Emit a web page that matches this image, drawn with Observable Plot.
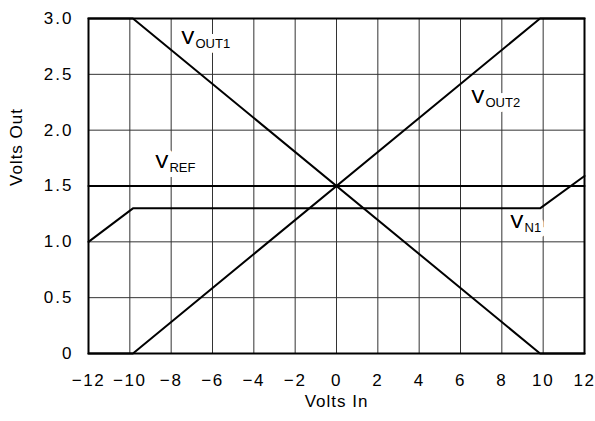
<!DOCTYPE html>
<html>
<head>
<meta charset="utf-8">
<script src="https://cdn.jsdelivr.net/npm/d3@7"></script>
<script src="https://cdn.jsdelivr.net/npm/@observablehq/plot@0.6"></script>
<style>
  html, body { margin: 0; padding: 0; background: #fff; }
  #chart svg { display: block; }
  #chart svg g[aria-label="x-axis tick label"] text { letter-spacing: 1.6px; }
  #chart svg g[aria-label="y-axis tick label"] text { letter-spacing: 2px; }
  #chart svg g.axis-title text { letter-spacing: 1px; }
</style>
</head>
<body>
<div id="chart"></div>
<script>
// Transfer characteristic: output voltages versus input voltage
const vin   = [-12, -9.85, 9.85, 12];
const vout1 = [3.0, 3.0, 0, 0];
const vout2 = [0, 0, 3.0, 3.0];
const vref  = [1.5, 1.5, 1.5, 1.5];
const vn1   = [1.0, 1.3, 1.3, 1.59];

// Axis ticks
const xTicks = [-12, -10, -8, -6, -4, -2, 0, 2, 4, 6, 8, 10, 12];
const yTicks = [0, 0.5, 1.0, 1.5, 2.0, 2.5, 3.0];
const yTickLabels = ["0", "0.5", "1.0", "1.5", "2.0", "2.5", "3.0"];

// Curve labels: main letter, subscript, anchor (left edge, baseline)
const labelMain = ["V", "V", "V", "V"];
const labelSub  = ["OUT1", "OUT2", "REF", "N1"];
const labelX    = [-7.5, 6.53, -8.76, 8.42];
const labelY    = [2.77, 2.24, 1.657, 1.12];

const series = [
  {name: "VOUT1", values: vout1},
  {name: "VOUT2", values: vout2},
  {name: "VREF",  values: vref},
  {name: "VN1",   values: vn1}
];
const lineData = series.flatMap(s => vin.map((x, i) => ({series: s.name, x, y: s.values[i]})));
const labels = labelMain.map((m, i) => ({main: m, sub: labelSub[i], x: labelX[i], y: labelY[i]}));

const font = "'Liberation Sans', Arial, Helvetica, sans-serif";

const chart = Plot.plot({
  width: 595,
  height: 421,
  marginLeft: 88,
  marginRight: 11,
  marginTop: 18,
  marginBottom: 68,
  style: {fontFamily: font, fontSize: "17px", color: "#000", background: "#fff"},
  x: {domain: [-12, 12]},
  y: {domain: [0, 3]},
  marks: [
    Plot.gridX(xTicks.slice(1, -1), {stroke: "#333", strokeOpacity: 1, strokeWidth: 1}),
    Plot.gridY(yTicks.slice(1, -1), {stroke: "#333", strokeOpacity: 1, strokeWidth: 1}),
    Plot.axisX(xTicks, {tickSize: 0, tickPadding: 20, fontSize: 17, label: null}),
    Plot.axisY(yTicks, {
      tickSize: 0, tickPadding: 15, fontSize: 17, label: null,
      tickFormat: d => yTickLabels[yTicks.indexOf(d)]
    }),
    // Curve labels with a white backing
    Plot.text(labels, {
      x: "x", y: "y", text: "main", textAnchor: "start", lineAnchor: "bottom",
      fontSize: 19, fill: "#000", stroke: "#fff", strokeWidth: 10
    }),
    Plot.text(labels, {
      x: "x", y: "y", text: "sub", textAnchor: "start", lineAnchor: "bottom",
      dx: 14, dy: 4, fontSize: 13, fill: "#000", stroke: "#fff", strokeWidth: 10
    }),
    Plot.text(labels, {
      x: "x", y: "y", text: "main", textAnchor: "start", lineAnchor: "bottom",
      fontSize: 19, fill: "#000"
    }),
    // Transfer curves
    Plot.line(lineData, {x: "x", y: "y", z: "series", stroke: "#000", strokeWidth: 2, strokeLinejoin: "miter"}),
    Plot.frame({stroke: "#000", strokeWidth: 2}),
    // Axis titles
    Plot.text(["Volts Out"], {
      frameAnchor: "left", text: d => d, rotate: -90, dx: -72,
      fontSize: 17, fill: "#000", className: "axis-title"
    }),
    Plot.text(["Volts In"], {
      frameAnchor: "bottom", text: d => d, dy: 53,
      fontSize: 17, fill: "#000", className: "axis-title"
    })
  ]
});

document.getElementById("chart").appendChild(chart);
</script>
</body>
</html>
